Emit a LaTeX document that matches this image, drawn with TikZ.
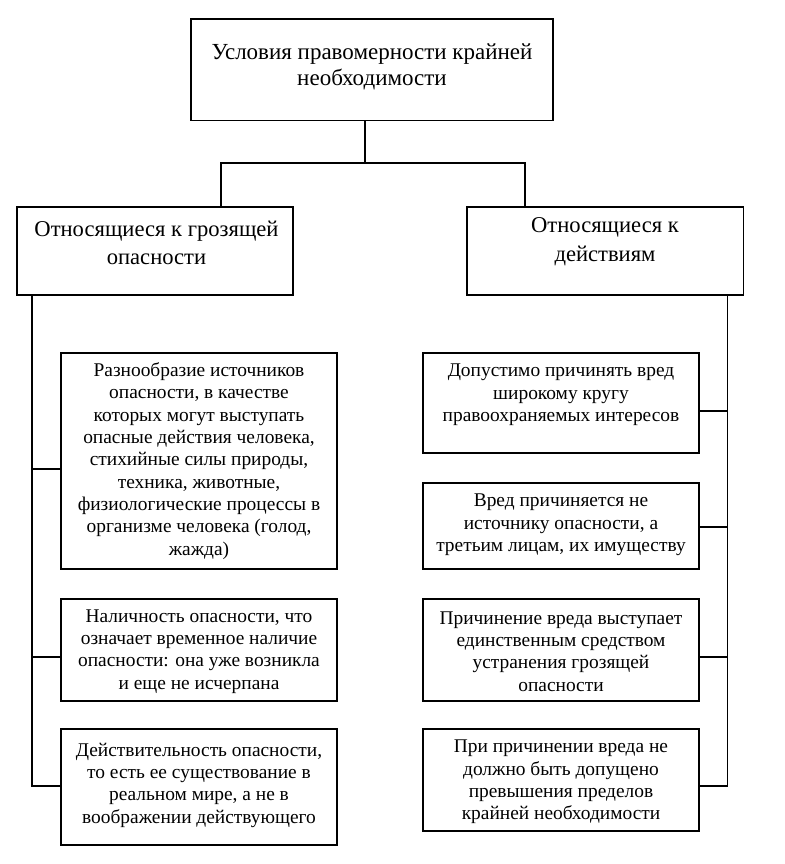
\documentclass[tikz,border=0pt]{standalone}
\usepackage{fontspec}
\setmainfont{Liberation Serif}
\begin{document}
\begin{tikzpicture}[x=1pt,y=-1pt,
  box/.style={draw=black,line width=1.6pt,fill=white,inner sep=0pt,rectangle},
  small/.style={align=center,font=\fontsize{19.4}{22.3}\selectfont,inner sep=0pt},
  big/.style={align=center,font=\fontsize{23}{26.7}\selectfont,inner sep=0pt},
  mid/.style={align=center,font=\fontsize{22.6}{28.3}\selectfont,inner sep=0pt},
  conn/.style={draw=black,line width=1.6pt}]
\useasboundingbox[fill=white] (0,0) rectangle (784,864);
% boxes
\node[box,minimum width=362pt,minimum height=101.7pt] (top) at (372,69.85) {};
\node[box,minimum width=276pt,minimum height=88.3pt] (ML) at (155,250.85) {};
\node[box,minimum width=276.6pt,minimum height=88.3pt] (MR) at (605,250.85) {};
\node[box,minimum width=276pt,minimum height=216pt] (L1) at (199,461) {};
\node[box,minimum width=276pt,minimum height=102pt] (L2) at (199,650) {};
\node[box,minimum width=276pt,minimum height=116pt] (L3) at (199,787) {};
\node[box,minimum width=276pt,minimum height=100pt] (R1) at (561,403) {};
\node[box,minimum width=276pt,minimum height=86pt] (R2) at (561,526) {};
\node[box,minimum width=276pt,minimum height=102pt] (R3) at (561,650) {};
\node[box,minimum width=276pt,minimum height=102pt] (R4) at (561,780) {};
% texts
\node[big] (topt) at ([yshift=3pt]top.center) {Условия правомерности крайней\\необходимости};
\node[mid] (MLt) at ([xshift=1.5pt,yshift=8.3pt]ML.center) {Относящиеся к грозящей\\опасности};
\node[mid] (MRt) at ([yshift=9pt]MR.center) {Относящиеся к\\действиям};
\node[small] (L1t) at (L1.center) {Разнообразие источников\\опасности, в качестве\\которых могут выступать\\опасные действия человека,\\стихийные силы природы,\\техника, животные,\\физиологические процессы в\\организме человека (голод,\\жажда)};
\node[small] (L2t) at ([yshift=-1.5pt]L2.center) {Наличность опасности, что\\означает временное наличие\\опасности: она уже возникла\\и еще не исчерпана};
\node[small] (L3t) at ([yshift=2pt]L3.center) {Действительность опасности,\\то есть ее существование в\\реальном мире, а не в\\воображении действующего};
\node[small] (R1t) at ([yshift=8pt]R1.center) {Допустимо причинять вред\\широкому кругу\\правоохраняемых интересов};
\node[small] (R2t) at ([yshift=1pt]R2.center) {Вред причиняется не\\источнику опасности, а\\третьим лицам, их имуществу};
\node[small] (R3t) at ([yshift=-1.5pt]R3.center) {Причинение вреда выступает\\единственным средством\\устранения грозящей\\опасности};
\node[small] (R4t) at ([yshift=-2pt]R4.center) {При причинении вреда не\\должно быть допущено\\превышения пределов\\крайней необходимости};
% connectors
\coordinate (j) at (365,162.7);
\draw[conn] ([xshift=-7pt]top.south) -- (j);
\draw[conn] ([xshift=65.7pt]ML.north) |- (j) -| ([xshift=-80pt]MR.north);
\coordinate (sl) at ([xshift=-123.3pt]ML.south);
\coordinate (sr) at ([xshift=122.3pt]MR.south);
\draw[conn] (sl) |- ([yshift=1pt]L3.west);
\draw[conn] ([yshift=-8pt]L1.west) -- ([yshift=-8pt]L1.west -| sl);
\draw[conn] ([yshift=-7pt]L2.west) -- ([yshift=-7pt]L2.west -| sl);
\draw[conn] (sr) |- ([yshift=-6pt]R4.east);
\draw[conn] ([yshift=-8pt]R1.east) -- ([yshift=-8pt]R1.east -| sr);
\draw[conn] ([yshift=-1pt]R2.east) -- ([yshift=-1pt]R2.east -| sr);
\draw[conn] ([yshift=-7pt]R3.east) -- ([yshift=-7pt]R3.east -| sr);
\end{tikzpicture}
\end{document}
